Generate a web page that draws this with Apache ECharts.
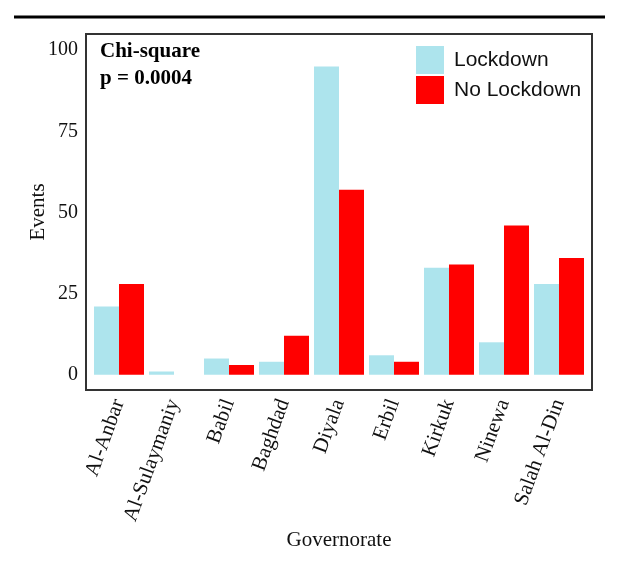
<!DOCTYPE html>
<html>
<head>
<meta charset="utf-8">
<script src="https://cdn.jsdelivr.net/npm/echarts@6/dist/echarts.min.js"></script>
<style>
  html, body { margin: 0; padding: 0; background: #fff; }
  #chart { width: 620px; height: 575px; }
</style>
</head>
<body>
<div id="chart"></div>
<script>
// governorates and event counts per group
const governorates = ["Al-Anbar", "Al-Sulaymaniy", "Babil", "Baghdad", "Diyala", "Erbil", "Kirkuk", "Ninewa", "Salah Al-Din"];
const lockdown = [21, 1, 5, 4, 95, 6, 33, 10, 28];
const noLockdown = [28, 0, 3, 12, 57, 4, 34, 46, 36];
const yTicks = [0, 25, 50, 75, 100];

const serif = "Liberation Serif";
const sans = "Liberation Sans";

const chart = echarts.init(document.getElementById("chart"));

chart.setOption({
  animation: false,
  backgroundColor: "#fff",
  title: {
    text: "Chi-square\np = 0.0004",
    left: 100,
    top: 38,
    padding: 0,
    textStyle: {
      fontFamily: serif,
      fontWeight: "bold",
      fontSize: 21,
      lineHeight: 27,
      color: "#000",
    },
  },
  legend: {
    orient: "vertical",
    left: 416,
    top: 46,
    padding: 0,
    itemWidth: 28,
    itemHeight: 28,
    itemGap: 2,
    icon: "rect",
    textStyle: { fontFamily: sans, fontSize: 21, color: "#111", padding: [0, 0, 0, 5] },
    data: ["Lockdown", "No Lockdown"],
  },
  grid: { left: 91.5, width: 495, top: 34, height: 356 },
  xAxis: {
    type: "category",
    data: governorates,
    axisLine: { show: false },
    axisTick: { show: false },
    axisLabel: {
      rotate: 70,
      margin: 10,
      fontFamily: serif,
      fontSize: 21,
      color: "#111",
      interval: 0,
    },
    name: "Governorate",
    nameLocation: "middle",
    nameGap: 140,
    nameMoveOverlap: false,
    nameTextStyle: { fontFamily: serif, fontSize: 21, color: "#111" },
  },
  yAxis: {
    type: "value",
    min: -4.7,
    max: 105,
    axisLine: { show: false },
    axisTick: { show: false },
    splitLine: { show: false },
    axisLabel: {
      customValues: yTicks,
      margin: 13.5,
      fontFamily: serif,
      fontSize: 20,
      color: "#111",
    },
    name: "Events",
    nameLocation: "middle",
    nameGap: 43,
    nameMoveOverlap: false,
    nameTextStyle: { fontFamily: serif, fontSize: 21, color: "#111" },
  },
  series: [
    {
      name: "Lockdown",
      type: "bar",
      data: lockdown,
      barGap: "0%",
      barCategoryGap: "9.09%",
      itemStyle: { color: "#ADE4ED" },
    },
    {
      name: "No Lockdown",
      type: "bar",
      data: noLockdown,
      barGap: "0%",
      barCategoryGap: "9.09%",
      itemStyle: { color: "#FF0000" },
    },
  ],
  graphic: [
    // panel border
    {
      type: "rect",
      shape: { x: 86, y: 34, width: 506, height: 356 },
      style: { fill: null, stroke: "#333", lineWidth: 2 },
      z: 10,
    },
    // rule above the figure
    {
      type: "line",
      shape: { x1: 14, y1: 17, x2: 605, y2: 17 },
      style: { stroke: "#000", lineWidth: 3 },
    },
  ],
});
</script>
</body>
</html>
